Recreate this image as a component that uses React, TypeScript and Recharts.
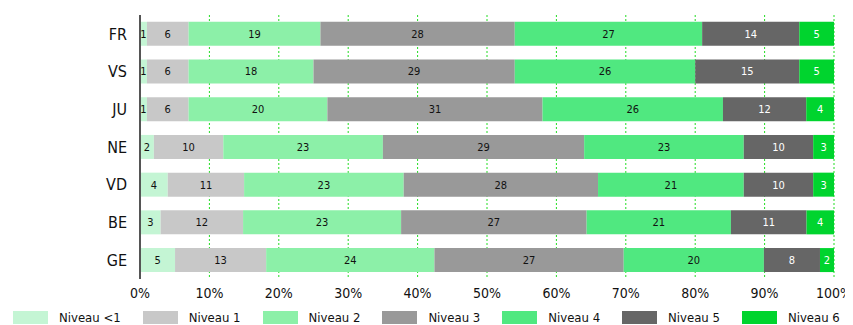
import { BarChart, Bar, XAxis, YAxis, CartesianGrid, LabelList, Legend } from 'recharts';

const cantons = ['FR', 'VS', 'JU', 'NE', 'VD', 'BE', 'GE'];
const niveauLt1 = [1, 1, 1, 2, 4, 3, 5];
const niveau1 = [6, 6, 6, 10, 11, 12, 13];
const niveau2 = [19, 18, 20, 23, 23, 23, 24];
const niveau3 = [28, 29, 31, 29, 28, 27, 27];
const niveau4 = [27, 26, 26, 23, 21, 21, 20];
const niveau5 = [14, 15, 12, 10, 10, 11, 8];
const niveau6 = [5, 5, 4, 3, 3, 4, 2];
const pctTicks = [0, 10, 20, 30, 40, 50, 60, 70, 80, 90, 100];

const FONT = '"DejaVu Sans Condensed", "Liberation Sans Narrow", "Liberation Sans", sans-serif';

const series = [
  { key: 'lt1', name: 'Niveau <1', color: '#c4f5d4', text: '#111' },
  { key: 'n1', name: 'Niveau 1', color: '#c8c8c8', text: '#111' },
  { key: 'n2', name: 'Niveau 2', color: '#8cf0a8', text: '#111' },
  { key: 'n3', name: 'Niveau 3', color: '#999999', text: '#111' },
  { key: 'n4', name: 'Niveau 4', color: '#50e880', text: '#111' },
  { key: 'n5', name: 'Niveau 5', color: '#666666', text: '#fff' },
  { key: 'n6', name: 'Niveau 6', color: '#00d42e', text: '#fff' },
];

const data = cantons.map((c, i) => ({
  name: c,
  lt1: niveauLt1[i],
  n1: niveau1[i],
  n2: niveau2[i],
  n3: niveau3[i],
  n4: niveau4[i],
  n5: niveau5[i],
  n6: niveau6[i],
}));

const LegendRow = () => (
  <div
    style={{
      display: 'flex',
      whiteSpace: 'nowrap',
      paddingLeft: 13,
      paddingTop: 5,
      fontFamily: FONT,
      fontSize: 13,
      color: '#111',
    }}
  >
    {series.map((s) => (
      <div key={s.key} style={{ display: 'flex', alignItems: 'center', marginRight: 22 }}>
        <span style={{ width: 35, height: 13, background: s.color, display: 'inline-block', marginRight: 11 }} />
        <span>{s.name}</span>
      </div>
    ))}
  </div>
);

export default function App() {
  return (
    <div style={{ position: 'relative', left: -8, top: -8, width: 853, height: 325, background: '#fff' }}>
      <BarChart
        width={853}
        height={325}
        data={data}
        layout='vertical'
        stackOffset='expand'
        barCategoryGap='18%'
        margin={{ top: 15, right: 19, left: 100, bottom: 0 }}
      >
        <CartesianGrid horizontal={false} stroke='#22dd22' strokeDasharray='2 2' />
        <XAxis
          type='number'
          domain={[0, 1]}
          ticks={pctTicks.map((t) => t / 100)}
          tickFormatter={(v) => `${Math.round(v * 100)}%`}
          axisLine={false}
          tickLine={false}
          tickSize={0}
          tickMargin={9}
          height={26}
          tick={{ fill: '#111', fontSize: 14, fontFamily: FONT }}
        />
        <YAxis
          type='category'
          dataKey='name'
          width={40}
          axisLine={{ stroke: '#555', strokeWidth: 2 }}
          tickLine={false}
          tickSize={0}
          tickMargin={13}
          tick={{ fill: '#111', fontSize: 16, fontFamily: FONT }}
        />
        <Legend
          verticalAlign='bottom'
          height={20}
          wrapperStyle={{ left: 0, width: 853 }}
          content={() => <LegendRow />}
        />
        {series.map((s) => (
          <Bar key={s.key} dataKey={s.key} name={s.name} stackId='a' fill={s.color} isAnimationActive={false}>
            <LabelList
              dataKey={s.key}
              position='center'
              fill={s.text}
              fontSize={11}
              fontFamily={FONT}
            />
          </Bar>
        ))}
      </BarChart>
    </div>
  );
}
